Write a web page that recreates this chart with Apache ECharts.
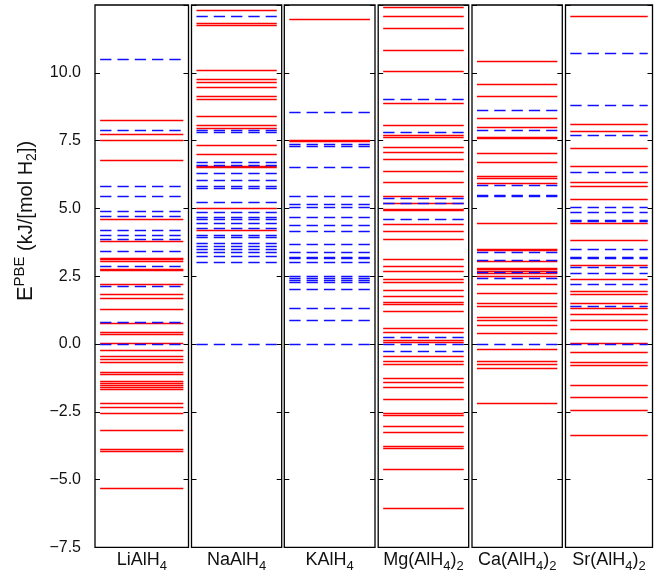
<!DOCTYPE html>
<html><head><meta charset="utf-8">
<script src="https://cdn.jsdelivr.net/npm/echarts@6/dist/echarts.min.js"></script>
<style>html,body{margin:0;padding:0;background:#fff}#c{width:654px;height:578px}</style>
</head><body><div id="c"></div>
<script>
const categories = ['LiAlH4', 'NaAlH4', 'KAlH4', 'Mg(AlH4)2', 'Ca(AlH4)2', 'Sr(AlH4)2'];
const yTickStep = 2.5;
// red solid levels
const redLi = [8.26, 7.74, 7.52, 6.76, 4.59, 3.80, 3.18, 3.12, 3.06, 2.77, 2.72, 2.21, 1.83, 1.67, 1.29, 0.78, 0.45, 0.37, 0.03, -0.22, -0.47, -0.56, -0.69, -1.06, -1.12, -1.39, -1.45, -1.52, -1.60, -1.67, -2.19, -2.32, -2.56, -3.17, -3.87, -3.95, -5.32];
const redNa = [12.31, 11.82, 11.77, 10.10, 9.78, 9.66, 9.45, 9.15, 9.03, 8.38, 8.07, 7.95, 7.32, 7.01, 6.57, 6.50, 4.99, 4.20];
const redK = [11.98, 7.53, 7.46];
const redMg = [12.41, 12.10, 11.65, 10.84, 10.04, 8.89, 8.06, 7.68, 7.62, 7.27, 7.08, 6.81, 6.38, 5.97, 5.43, 5.18, 4.97, 4.94, 4.40, 4.14, 3.86, 3.12, 2.88, 2.69, 2.40, 2.29, 1.99, 1.77, 1.53, 1.45, 1.21, 0.58, 0.43, 0.12, 0.05, -0.47, -0.62, -0.74, -1.25, -1.40, -1.60, -2.03, -2.54, -2.61, -3.03, -3.27, -3.78, -3.85, -4.63, -6.04];
const redCa = [10.42, 9.57, 9.14, 8.32, 8.01, 7.64, 7.58, 7.04, 6.70, 6.18, 6.13, 5.93, 4.47, 3.50, 3.44, 3.05, 2.81, 2.75, 2.69, 2.60, 2.51, 2.20, 1.88, 1.50, 1.40, 1.00, 0.86, 0.70, 0.39, -0.19, -0.63, -0.75, -0.90, -2.17];
const redSr = [12.09, 8.12, 7.84, 7.22, 6.56, 5.97, 5.80, 5.33, 4.45, 3.81, 2.91, 2.40, 1.96, 1.83, 1.50, 1.33, 1.11, 0.86, 0.56, 0.02, -0.31, -0.67, -0.79, -1.52, -1.95, -2.46, -3.38];
// blue dashed levels
const blueLi = [10.49, 7.88, 5.83, 5.46, 4.90, 4.72, 4.20, 4.00, 3.86, 3.43, 2.85, 2.14, 0.80, 0.0];
const blueNa = [12.07, 7.89, 7.80, 6.71, 6.60, 6.28, 6.03, 5.82, 5.74, 5.24, 4.85, 4.66, 4.61, 4.45, 4.25, 4.02, 3.93, 3.71, 3.62, 3.51, 3.40, 3.23, 3.03, 0.0];
const blueK = [8.56, 7.36, 7.30, 6.53, 5.46, 5.16, 5.06, 4.67, 4.38, 4.14, 3.67, 3.39, 3.21, 3.17, 3.03, 2.50, 2.43, 2.35, 2.29, 2.01, 1.31, 0.88, 0.0];
const blueMg = [9.04, 7.79, 5.37, 5.18, 4.59, 0.26, 0.0, -0.26];
const blueCa = [8.62, 7.88, 5.85, 5.50, 5.45, 3.39, 3.07, 2.66, 2.43, 0.0];
const blueSr = [10.72, 8.81, 7.71, 6.34, 5.06, 4.84, 4.55, 4.51, 3.51, 3.20, 3.15, 2.84, 2.60, 2.22, 1.40, 0.0];

const redSets = [redLi, redNa, redK, redMg, redCa, redSr];
const blueSets = [blueLi, blueNa, blueK, blueMg, blueCa, blueSr];

const panelLeft = [95, 191.5, 284.3, 378.2, 472, 565.5];
const panelWidth = [93.5, 90.2, 90.7, 90.5, 90.3, 87];
const FONT = '"Liberation Sans", Arial, Helvetica, sans-serif';

function richName(s) {
  return s.replace(/(\D+)|(\d+)/g, (m, a, b) => a ? '{n|' + a + '}' : '{s|' + b + '}');
}
function fmt(v) {
  return (v < 0 ? '\u2212' : '') + Math.abs(v).toFixed(1);
}

const grids = [], xAxes = [], yAxes = [], series = [];
categories.forEach((cat, i) => {
  grids.push({left: panelLeft[i], top: 5, width: panelWidth[i], height: 542.4,
    outerBoundsMode: 'none', containLabel: false,
    show: true, borderColor: '#000', borderWidth: 1.3, backgroundColor: 'transparent'});
  xAxes.push({gridIndex: i, type: 'value', min: 0, max: 1,
    axisLine: {show: false}, axisTick: {show: false}, axisLabel: {show: false}, splitLine: {show: false},
    name: richName(cat), nameLocation: 'middle', nameGap: 0,
    nameTextStyle: {rich: {
      n: {fontSize: 18, fontFamily: FONT, color: '#111', verticalAlign: 'middle'},
      s: {fontSize: 13, fontFamily: FONT, color: '#111', verticalAlign: 'middle', padding: [13, 0, 0, 0]}
    }}});
  ['left', 'right'].forEach(pos => {
    yAxes.push({gridIndex: i, type: 'value', position: pos, min: -7.5, max: 12.5, interval: yTickStep,
      axisLine: {show: false},
      axisTick: {show: true, inside: true, length: 5, lineStyle: {color: '#000', width: 1}},
      axisLabel: {show: i === 0 && pos === 'left', showMaxLabel: false, formatter: fmt,
        fontSize: 16, fontFamily: FONT, color: '#111', margin: 14},
      splitLine: {show: false}});
  });
  series.push({type: 'lines', coordinateSystem: 'cartesian2d', xAxisIndex: i, yAxisIndex: 2 * i,
    silent: true, polyline: false,
    lineStyle: {color: '#ff0000', width: 1.3, opacity: 1, type: 'solid', curveness: 0},
    data: redSets[i].map(v => ({coords: [[0.055, v], [0.945, v]]}))});
  series.push({type: 'lines', coordinateSystem: 'cartesian2d', xAxisIndex: i, yAxisIndex: 2 * i,
    silent: true, polyline: false,
    lineStyle: {color: '#1010ff', width: 1.4, opacity: 1, type: [11.3, 6], curveness: 0},
    data: blueSets[i].map(v => ({coords: [[0.055, v], [0.945, v]]}))});
});

const chart = echarts.init(document.getElementById('c'), null, {renderer: 'canvas'});
chart.setOption({
  animation: false,
  backgroundColor: '#fff',
  grid: grids, xAxis: xAxes, yAxis: yAxes, series: series,
  graphic: [{
    type: 'text', x: 26, y: 221, rotation: Math.PI / 2,
    style: {
      text: '{e|E}{p|PBE}{n| (kJ/[mol H}{b|2}{n|])}',
      align: 'center', verticalAlign: 'middle',
      rich: {
        e: {fontSize: 22, fontFamily: FONT, fill: '#111', verticalAlign: 'middle'},
        p: {fontSize: 15, fontFamily: FONT, fill: '#111', verticalAlign: 'middle', padding: [0, 0, 13, 0]},
        n: {fontSize: 20, fontFamily: FONT, fill: '#111', verticalAlign: 'middle'},
        b: {fontSize: 14, fontFamily: FONT, fill: '#111', verticalAlign: 'middle', padding: [12, 0, 0, 0]}
      }
    }
  }]
});
</script></body></html>
